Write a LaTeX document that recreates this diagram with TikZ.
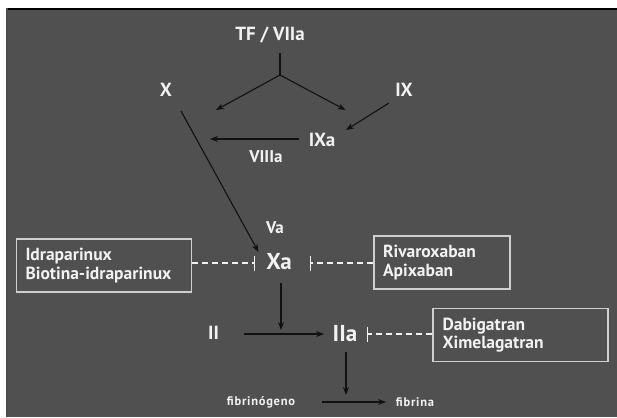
\documentclass[tikz,border=0pt]{standalone}
\usepackage{fontspec}
\setmainfont{PT Sans}
\usetikzlibrary{arrows.meta}
\definecolor{panel}{HTML}{505050}
\definecolor{ink}{HTML}{F2F2F2}
\definecolor{frame}{HTML}{CFCFCF}
\definecolor{arrowink}{HTML}{111111}
\begin{document}
\begin{tikzpicture}[x=1pt,y=-1pt,
  factor/.style={text=ink, inner sep=0pt, font=\bfseries\fontsize{19}{19}\selectfont},
  bigfactor/.style={factor, font=\bfseries\fontsize{23}{23}\selectfont},
  smallfactor/.style={factor, font=\bfseries\fontsize{17}{17}\selectfont},
  tinyfactor/.style={factor, font=\bfseries\fontsize{12.5}{12.5}\selectfont\addfontfeatures{LetterSpace=6}},
  drugbox/.style={draw=frame, line width=1.2pt, text=ink, align=left,
    inner xsep=9pt, inner ysep=0pt, minimum height=53pt,
    font=\bfseries\fontsize{17.5}{18.5}\selectfont},
  act/.style={draw=arrowink, line width=1.1pt, -{Stealth[length=8pt,width=6pt]}},
  plain/.style={draw=arrowink, line width=1.1pt},
  inhib/.style={draw=ink, line width=1.3pt, dash pattern=on 6pt off 4pt,
    -{Bar[width=15pt,line width=1.3pt]}}
]
\useasboundingbox (0,0) rectangle (617,417);
% backdrop
\fill[white] (0,0) rectangle (617,417);
\fill[panel] (6,8) rectangle (617,417);
\draw[line width=2pt, black] (6,9) -- (617,9);
\draw[line width=2pt, black!70] (7,8) -- (7,417);

% factors
\node[factor] (tf) at (270,35) {TF / VIIa};
\node[factor] (x) at (166,90) {X};
\node[factor] (ix) at (404,90) {IX};
\node[factor] (ixa) at (322,140) {IXa};
\node[smallfactor] (viiia) at (266,157) {VIIIa};
\node[smallfactor] (va) at (275,228) {Va};
\node[bigfactor] (xa) at (279,262) {Xa};
\node[factor] (ii) at (213.5,333) {II};
\node[bigfactor] (iia) at (345,333.5) {IIa};
\node[tinyfactor] (fbg) at (261,402) {fibrinógeno};
\node[tinyfactor] (fbn) at (415,402) {fibrina};

% drug boxes
\node[drugbox, minimum width=175pt, text width=157pt] (idra) at (104,265.5)
  {Idraparinux\\Biotina-idraparinux};
\node[drugbox, minimum width=136pt, text width=118pt] (riva) at (442,262.5)
  {Rivaroxaban\\Apixaban};
\node[drugbox, minimum width=175pt, text width=156pt] (dabi) at (520.5,335)
  {Dabigatran\\Ximelagatran};

% junction and free arrow ends
\coordinate (tfbase) at (280,53);
\coordinate (split) at (280,75);
\coordinate (toL) at (216,110);
\coordinate (toR) at (345.5,110);
\coordinate (ixstart) at (389,103);
\coordinate (ixend) at (346,130);
\coordinate (ixastart) at (299,139);
\coordinate (ixaend) at (210,139);
\coordinate (xstart) at (181,111);
\coordinate (xend) at (258.5,252);
\coordinate (xastart) at (281,283);
\coordinate (xaend) at (281,330);
\coordinate (iistart) at (244,334);
\coordinate (iiend) at (324,334);
\coordinate (iiastart) at (346,352);
\coordinate (iiaend) at (346,395);
\coordinate (fbgstart) at (322,402);
\coordinate (fbgend) at (386,402);
\coordinate (xaL) at (255,263);
\coordinate (xaR) at (310,263);
\coordinate (iiaR) at (367,334);

% activation cascade
\draw[plain] (tfbase) -- (split);
\draw[act] (split) -- (toL);
\draw[act] (split) -- (toR);
\draw[act] (ixstart) -- (ixend);
\draw[act] (ixastart) -- (ixaend);
\draw[act] (xstart) -- (xend);
\draw[act] (xastart) -- (xaend);
\draw[act] (iistart) -- (iiend);
\draw[act] (iiastart) -- (iiaend);
\draw[act] (fbgstart) -- (fbgend);

% inhibitors
\draw[inhib] (idra.east |- xaL) -- (xaL);
\draw[inhib] (riva.west |- xaR) -- (xaR);
\draw[inhib] (dabi.west |- iiaR) -- (iiaR);
\end{tikzpicture}
\end{document}
